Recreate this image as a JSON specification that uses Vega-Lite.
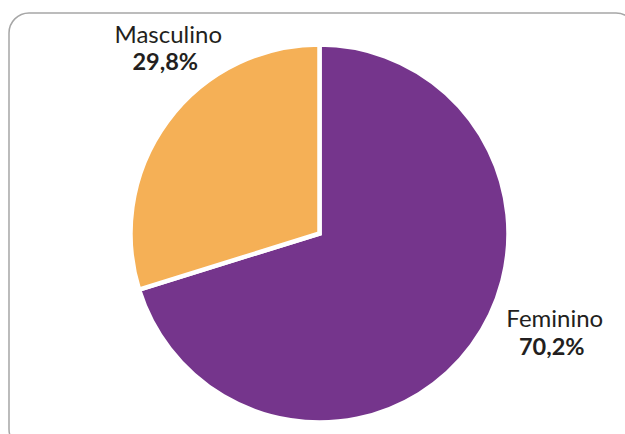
{
  "$schema": "https://vega.github.io/schema/vega-lite/v6.json",
  "width": 625,
  "height": 434,
  "autosize": {"type": "fit", "contains": "padding"},
  "padding": {"left": 9, "top": 13, "right": -11, "bottom": -15},
  "background": "white",
  "view": {"stroke": "#A6A6A6", "strokeWidth": 1.5, "cornerRadius": 20, "fill": "white"},
  "data": {"values": [
    {"sexo": "Feminino", "pct": 70.2, "label": "70,2%"},
    {"sexo": "Masculino", "pct": 29.8, "label": "29,8%"}
  ]},
  "encoding": {
    "theta": {"field": "pct", "type": "quantitative", "stack": true},
    "order": {"field": "sexo", "sort": "ascending"}
  },
  "layer": [
    {
      "mark": {"type": "arc", "outerRadius": 189, "stroke": "white", "strokeWidth": 4.5,
               "x": {"expr": "width/2-3"}, "y": {"expr": "height/2+2.5"}},
      "encoding": {
        "color": {"field": "sexo", "type": "nominal",
                  "scale": {"domain": ["Feminino", "Masculino"], "range": ["#75358C", "#F5B056"]},
                  "legend": null}
      }
    },
    {
      "mark": {"type": "text", "radius": 240, "font": "Lato", "fontSize": 24, "fill": "#231F20",
               "align": "center", "baseline": "alphabetic", "dx": 42, "dy": -48.5,
               "x": {"expr": "width/2-3"}, "y": {"expr": "height/2+2.5"}},
      "encoding": {"text": {"field": "sexo"}}
    },
    {
      "mark": {"type": "text", "radius": 240, "font": "Lato", "fontSize": 23.5, "fontWeight": "bold", "fill": "#231F20",
               "align": "center", "baseline": "alphabetic", "dx": 39, "dy": -21,
               "x": {"expr": "width/2-3"}, "y": {"expr": "height/2+2.5"}},
      "encoding": {"text": {"field": "label"}}
    }
  ]
}
